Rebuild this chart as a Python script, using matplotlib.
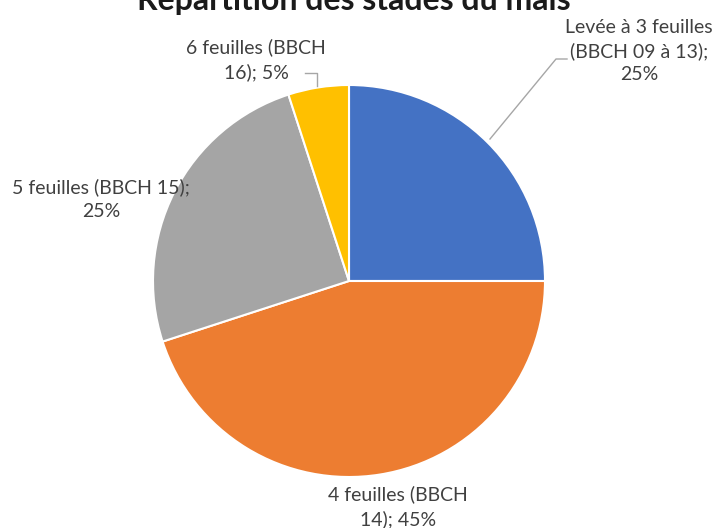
import matplotlib
matplotlib.use("Agg")
import matplotlib.pyplot as plt

plt.rcParams['font.family'] = ['Lato', 'DejaVu Sans']

stades = ["Levée à 3 feuilles\n(BBCH 09 à 13);\n25%",
          "4 feuilles (BBCH\n14); 45%",
          "5 feuilles (BBCH 15);\n25%",
          "6 feuilles (BBCH\n16); 5%"]
parts = [25, 45, 25, 5]
couleurs = ["#4472C4", "#ED7D31", "#A5A5A5", "#FFC000"]

fig = plt.figure(figsize=(7.21, 5.28), dpi=100)
W, H = 721, 528
cx, cy, r = 349, 281, 196
ax = fig.add_axes([(cx - r) / W, (H - cy - r) / H, 2 * r / W, 2 * r / H])
ax.pie(parts, colors=couleurs, startangle=90, counterclock=False,
       wedgeprops=dict(edgecolor="white", linewidth=1.5))
ax.set_xlim(-1, 1)
ax.set_ylim(-1, 1)
ax.axis("off")

def px(x, y):
    return (x - cx) / r, (cy - y) / r

txt = dict(ha="center", va="center", fontsize=14, color="#404040",
           linespacing=1.45, clip_on=False)
pos = [(639, 51), (398, 507), (101, 199), (256, 60)]
for lab, (x, y) in zip(stades, pos):
    ax.text(*px(x, y), lab, **txt)

# lignes de rappel
for pts in ([(490, 139), (556, 59), (567, 59)],
            [(305, 73), (317, 73), (317, 86)]):
    xs, ys = zip(*[px(a, b) for a, b in pts])
    ax.plot(xs, ys, color="#A6A6A6", lw=1, clip_on=False)

fig.text(354 / W, (H - 10) / H, "Répartition des stades du maïs",
         ha="center", va="baseline", fontsize=23, fontweight="bold",
         color="#1a1a1a")

fig.savefig("out.png", dpi=100)
